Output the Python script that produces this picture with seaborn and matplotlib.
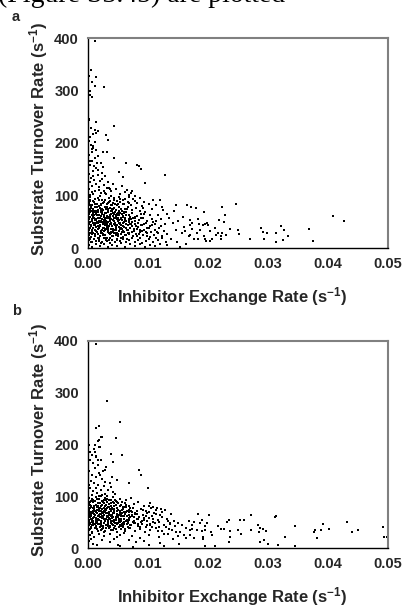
"""
Scatter of substrate turnover vs inhibitor exchange rate, two panels (a, b).
"""

import numpy as np
import matplotlib
matplotlib.use('Agg')
import matplotlib.pyplot as plt
import seaborn as sns

# ---- data (x in units of 1e-3 s^-1, y in s^-1) ----
a_high = [(1.22, 394), (0.44, 340), (0.1, 327), (1.3, 326), (0.7, 317), (1.1, 309), (2.6, 307),
          (0.4, 300), (0.3, 292), (0.6, 288), (0.1, 244), (1.3, 240), (4.3, 233), (1.7, 223),
          (1.4, 219), (3.0, 215), (3.3, 206), (0.9, 194), (0.6, 189), (2.5, 183), (3.2, 183),
          (4.4, 171), (6.4, 161), (8.1, 159), (8.5, 156), (8.9, 151), (5.1, 145), (5.8, 135),
          (12.8, 140), (9.5, 123), (10.8, 92), (12.0, 91)]

a_column = [(0.1, 245), (0.3, 212), (0.5, 196), (0.9, 190), (0.2, 178), (1.1, 171), (0.6, 166),
            (0.4, 158), (1.3, 152), (0.8, 147), (0.2, 141), (1.6, 139), (0.5, 134), (1.0, 129),
            (0.3, 125), (1.4, 121), (0.7, 118), (1.9, 116), (0.1, 112), (1.2, 109), (0.6, 106),
            (2.1, 104), (0.9, 102), (0.4, 101), (1.7, 148), (2.3, 132), (1.5, 161), (0.7, 183),
            (1.2, 201), (2.0, 127), (2.6, 120), (1.8, 111), (2.4, 143), (0.3, 165), (1.0, 156),
            (2.9, 137), (3.3, 126), (2.7, 108), (3.1, 115), (1.4, 186), (0.2, 204), (1.1, 224),
            (0.8, 218), (2.2, 162), (3.6, 112), (0.5, 228), (1.6, 176), (0.9, 137), (2.5, 155),
            (3.0, 103)]

a_soft = [(2.8, 104), (3.9, 108), (4.6, 113), (5.3, 102), (6.1, 106), (6.9, 101), (7.4, 109),
          (5.6, 118), (4.1, 122), (3.5, 115), (6.5, 111), (7.9, 99), (8.6, 95), (9.4, 88),
          (10.1, 84), (9.0, 80), (10.7, 74), (11.3, 82), (12.4, 79), (7.2, 104)]

a_core = [(0.3, 97), (1.2, 93), (2.0, 99), (2.8, 91), (3.5, 96), (4.4, 92), (5.1, 98), (6.2, 94),
          (0.8, 90), (1.7, 95), (3.9, 100), (4.8, 90), (5.9, 91), (6.8, 97), (7.5, 93),
          (0.1, 86), (0.6, 82), (1.0, 88), (1.5, 84), (2.2, 81), (2.6, 87), (3.1, 83), (3.7, 89),
          (4.2, 85), (4.9, 81), (5.4, 87), (6.0, 83), (6.6, 88), (7.2, 82), (8.1, 86), (0.4, 89),
          (1.9, 80), (3.4, 86), (5.0, 84), (7.8, 89),
          (0.2, 75), (0.7, 71), (1.1, 78), (1.6, 73), (2.0, 77), (2.5, 72), (2.9, 79), (3.3, 74),
          (3.8, 70), (4.3, 76), (4.7, 72), (5.2, 78), (5.7, 71), (6.1, 75), (6.7, 79), (7.3, 73),
          (8.0, 76), (8.6, 71), (9.2, 77), (0.5, 79), (1.3, 70), (2.3, 75), (3.6, 77), (4.0, 71),
          (5.5, 74),
          (0.1, 64), (0.4, 68), (0.9, 61), (1.4, 66), (1.8, 62), (2.1, 69), (2.7, 63), (3.0, 67),
          (3.5, 60), (3.9, 65), (4.5, 69), (4.9, 62), (5.3, 66), (5.8, 61), (6.3, 68), (6.9, 63),
          (7.4, 67), (8.2, 61), (8.8, 65), (9.5, 69), (10.3, 62), (0.7, 62), (1.2, 69), (2.4, 65),
          (3.2, 61), (4.1, 67), (5.6, 64), (7.0, 60),
          (0.2, 55), (0.6, 51), (1.0, 58), (1.3, 53), (1.7, 57), (2.2, 52), (2.6, 59), (2.9, 54),
          (3.4, 50), (3.7, 56), (4.2, 53), (4.6, 58), (5.0, 51), (5.5, 55), (5.9, 59), (6.4, 52),
          (6.8, 56), (7.3, 50), (7.9, 57), (8.5, 53), (9.1, 58), (9.8, 51), (10.6, 55), (11.4, 52),
          (0.4, 59), (1.5, 50), (2.4, 56), (3.1, 58), (4.4, 51), (6.1, 54),
          (0.1, 45), (0.5, 41), (0.8, 48), (1.2, 43), (1.6, 47), (1.9, 42), (2.3, 49), (2.8, 44),
          (3.2, 40), (3.6, 46), (4.0, 42), (4.5, 48), (4.9, 43), (5.4, 47), (5.8, 41), (6.3, 45),
          (6.9, 49), (7.4, 42), (7.9, 46), (8.4, 40), (9.0, 44), (9.7, 48), (10.4, 42), (11.2, 46),
          (12.1, 41), (0.3, 49), (1.4, 40), (2.6, 46), (3.9, 48), (5.1, 40),
          (0.2, 35), (0.6, 31), (0.9, 38), (1.3, 33), (1.7, 37), (2.1, 32), (2.5, 39), (2.9, 34),
          (3.3, 30), (3.8, 36), (4.2, 32), (4.7, 38), (5.1, 33), (5.6, 37), (6.0, 31), (6.5, 35),
          (7.0, 39), (7.6, 32), (8.1, 36), (8.7, 30), (9.3, 34), (9.9, 38), (10.5, 31), (11.1, 35),
          (11.8, 39), (12.6, 33), (0.4, 39), (1.5, 30), (3.0, 37), (4.4, 35),
          (0.1, 25), (0.5, 21), (0.9, 28), (1.2, 23), (1.6, 27), (2.0, 22), (2.4, 29), (2.8, 24),
          (3.2, 20), (3.7, 26), (4.1, 22), (4.6, 28), (5.0, 23), (5.5, 27), (5.9, 21), (6.4, 25),
          (6.9, 29), (7.5, 22), (8.0, 26), (8.6, 20), (9.2, 24), (9.8, 28), (10.4, 21), (11.0, 25),
          (11.7, 29), (12.4, 23), (13.2, 27), (0.3, 29), (1.8, 20), (3.5, 28),
          (0.2, 15), (0.6, 11), (1.0, 18), (1.4, 13), (1.9, 17), (2.3, 12), (2.7, 19), (3.1, 14),
          (3.6, 10), (4.0, 16), (4.5, 12), (4.9, 18), (5.4, 13), (5.8, 17), (6.3, 11), (6.8, 15),
          (7.3, 19), (7.9, 12), (8.4, 16), (9.0, 10), (9.6, 14), (10.2, 18), (10.9, 11), (11.6, 15),
          (12.3, 19), (13.0, 12), (0.4, 19), (2.1, 10),
          (0.1, 5), (0.7, 2), (1.3, 8), (2.0, 4), (2.6, 7), (3.3, 1), (4.0, 6), (4.8, 3), (5.5, 9),
          (6.2, 2), (7.0, 7), (7.8, 4), (8.7, 8), (9.5, 1), (10.3, 6), (11.2, 3), (12.0, 8),
          (13.1, 5), (15.4, 2), (16.3, 7)]

a_fill = [(0.3, 72), (0.8, 66), (1.1, 54), (1.4, 47), (1.9, 38), (2.2, 61), (2.5, 45), (2.7, 33),
          (3.0, 57), (3.3, 69), (3.5, 42), (3.8, 28), (4.1, 61), (4.3, 46), (4.6, 35), (4.8, 55),
          (5.2, 62), (5.5, 44), (5.7, 30), (6.0, 50), (0.2, 58), (0.5, 44), (0.7, 35), (1.0, 71),
          (1.2, 26), (1.5, 62), (1.8, 52), (2.0, 44), (2.3, 35), (2.6, 54), (2.9, 66), (3.1, 48),
          (3.4, 39), (3.7, 59), (3.9, 31), (4.2, 74), (4.4, 57), (4.7, 42), (5.0, 67), (5.3, 36),
          (0.4, 82), (0.9, 74), (1.3, 64), (1.6, 41), (2.1, 84), (2.4, 69), (2.8, 58), (3.2, 78),
          (3.6, 52), (4.0, 81), (4.3, 28), (4.8, 65), (5.1, 48), (5.6, 71), (6.2, 58), (6.6, 44),
          (7.1, 55), (7.7, 37), (8.3, 48), (8.9, 58), (0.6, 26), (1.1, 34), (1.6, 19), (2.0, 58),
          (2.5, 24), (3.0, 15), (3.4, 73), (3.9, 55), (4.3, 64), (4.7, 24), (5.2, 53), (5.8, 47),
          (6.4, 38), (6.9, 52), (7.4, 30), (8.0, 42), (8.6, 35), (9.4, 45), (10.1, 38), (10.8, 49),
          (0.2, 38), (0.7, 55), (1.2, 47), (1.7, 68), (2.2, 28), (2.7, 50), (3.2, 43), (3.7, 20),
          (4.1, 37), (4.6, 63), (5.0, 26), (5.5, 58), (6.0, 66), (6.6, 29), (7.2, 46), (7.8, 60),
          (9.0, 33), (9.8, 22), (11.5, 30), (12.8, 45)]

a_fill2 = [(0.15, 83), (0.45, 76), (0.75, 69), (1.05, 62), (1.35, 55), (1.65, 48), (1.95, 41),
           (2.25, 34), (2.55, 27), (2.85, 20), (3.15, 13), (3.45, 88), (3.75, 81), (4.05, 74),
           (4.35, 67), (4.65, 60), (4.95, 53), (5.25, 46), (5.55, 39), (5.85, 32), (6.15, 25),
           (6.45, 18), (6.75, 86), (0.35, 17), (0.65, 30), (0.95, 43), (1.25, 56), (1.55, 79),
           (1.85, 92), (2.15, 73), (2.45, 86), (2.75, 47), (3.05, 52), (3.35, 34), (3.65, 63),
           (3.95, 22), (4.25, 95), (4.55, 44), (4.85, 29), (5.15, 71), (5.45, 19), (5.75, 84),
           (6.05, 40), (6.35, 63), (6.65, 34), (7.0, 45), (7.5, 57), (8.2, 22), (8.8, 43),
           (9.3, 64), (0.25, 92), (0.55, 12), (0.85, 57), (1.15, 84), (1.45, 31), (1.75, 14),
           (2.05, 50), (2.35, 92), (2.65, 38), (2.95, 75), (3.25, 58), (3.55, 15), (3.85, 45),
           (4.15, 30), (4.45, 83), (4.75, 15), (5.05, 58), (5.35, 93), (5.65, 53), (5.95, 69),
           (6.25, 46), (6.55, 74), (6.85, 26), (7.3, 66), (7.9, 51), (8.5, 27), (9.6, 31),
           (10.6, 44), (11.3, 20), (12.2, 56)]

a_tail = [(14.7, 81), (16.5, 81), (17.1, 78), (18.0, 76), (19.3, 68), (22.4, 79), (24.7, 84),
          (22.8, 62), (21.9, 54), (22.6, 50), (23.6, 37), (25.0, 34), (25.1, 27), (27.0, 17),
          (28.8, 39), (29.2, 30), (29.3, 17), (29.8, 29), (31.3, 29), (31.3, 12), (32.2, 42),
          (32.6, 34), (32.5, 16), (33.4, 23), (36.8, 36), (37.5, 13), (40.8, 61), (42.6, 51),
          (17.0, 53), (17.0, 44), (17.3, 36), (17.0, 25), (17.6, 17), (18.4, 55), (18.5, 45),
          (18.7, 34), (19.1, 44), (19.5, 46), (19.9, 48), (20.0, 44), (19.4, 23), (19.5, 17),
          (19.7, 13), (18.2, 28), (18.3, 18), (20.3, 32), (20.4, 13), (20.7, 17), (21.2, 39),
          (21.3, 25), (21.7, 28), (22.2, 22), (22.4, 28), (22.1, 18), (23.0, 25),
          (13.5, 58), (14.1, 47), (14.6, 35), (15.0, 52), (15.6, 28), (16.0, 40), (16.8, 22),
          (17.3, 48), (13.8, 18), (14.9, 12), (15.8, 60), (16.2, 33), (13.1, 65), (12.5, 72),
          (11.6, 63), (14.3, 70)]

b_high = [(1.3, 394), (3.2, 285), (5.3, 243), (1.4, 231), (1.8, 236), (4.7, 212), (2.1, 214),
          (1.8, 209), (0.1, 199), (5.7, 179), (3.8, 182), (8.5, 151), (8.8, 141), (10.0, 116),
          (4.2, 166), (2.8, 151), (4.0, 138), (4.8, 131), (6.9, 125), (1.6, 207), (2.3, 215),
          (1.2, 199), (2.0, 196), (1.4, 178), (1.7, 170)]

b_column = [(0.1, 199), (0.3, 186), (0.6, 180), (1.0, 192), (1.3, 176), (0.4, 171), (0.8, 165),
            (1.6, 160), (1.1, 154), (0.2, 148), (1.9, 145), (0.7, 141), (1.4, 137), (2.3, 133),
            (0.5, 129), (1.0, 126), (1.7, 122), (2.6, 119), (0.3, 116), (2.1, 113), (0.9, 110),
            (1.5, 107), (2.8, 104), (0.6, 102), (3.2, 101), (3.6, 125), (2.5, 148), (3.0, 156),
            (2.2, 170), (1.2, 185), (1.8, 196), (2.0, 141), (3.4, 112), (4.1, 108), (3.8, 118),
            (2.9, 128), (4.5, 105), (0.2, 122), (1.3, 115), (2.4, 102)]

b_core = [(0.2, 96), (0.8, 92), (1.3, 99), (1.9, 94), (2.4, 90), (2.9, 97), (3.5, 93), (4.1, 98),
          (4.7, 91), (5.4, 95), (6.3, 92), (7.2, 97), (0.5, 91), (2.1, 100), (3.2, 95),
          (0.1, 85), (0.5, 81), (0.9, 88), (1.3, 83), (1.7, 87), (2.1, 82), (2.5, 89), (3.0, 84),
          (3.4, 80), (3.9, 86), (4.4, 82), (4.9, 88), (5.5, 83), (6.1, 87), (6.8, 81), (7.6, 85),
          (8.4, 89), (9.3, 82), (10.4, 86), (0.3, 89), (1.5, 80), (2.7, 86), (4.2, 88), (5.8, 80),
          (0.2, 74), (0.6, 70), (1.0, 77), (1.4, 72), (1.8, 76), (2.2, 71), (2.6, 78), (3.0, 73),
          (3.5, 79), (3.9, 75), (4.3, 71), (4.8, 77), (5.3, 72), (5.8, 76), (6.3, 70), (6.9, 74),
          (7.5, 78), (8.1, 72), (8.8, 76), (9.6, 71), (10.5, 78), (11.3, 74), (0.4, 78), (1.6, 79),
          (2.8, 70), (4.0, 78), (5.6, 74), (7.1, 71),
          (0.1, 65), (0.5, 61), (0.8, 68), (1.2, 63), (1.5, 67), (1.9, 62), (2.3, 69), (2.7, 64),
          (3.1, 60), (3.5, 66), (3.9, 62), (4.4, 68), (4.8, 63), (5.3, 67), (5.7, 61), (6.2, 65),
          (6.8, 69), (7.3, 62), (7.9, 66), (8.5, 60), (9.1, 64), (9.8, 68), (10.6, 61), (11.4, 65),
          (12.3, 69), (0.3, 69), (1.0, 60), (2.0, 66), (3.3, 68), (4.6, 60), (6.0, 69),
          (0.2, 55), (0.6, 51), (0.9, 58), (1.3, 53), (1.7, 57), (2.1, 52), (2.5, 59), (2.9, 54),
          (3.3, 50), (3.7, 56), (4.2, 52), (4.6, 58), (5.1, 53), (5.5, 57), (6.0, 51), (6.5, 55),
          (7.0, 59), (7.6, 52), (8.2, 56), (8.8, 50), (9.4, 54), (10.1, 58), (10.8, 51), (11.6, 55),
          (12.4, 59), (13.3, 53), (0.4, 59), (1.5, 50), (3.0, 57), (4.4, 55), (6.7, 50),
          (0.1, 45), (0.5, 41), (0.9, 48), (1.4, 43), (1.8, 47), (2.2, 42), (2.7, 49), (3.1, 44),
          (3.6, 40), (4.0, 46), (4.5, 42), (5.0, 48), (5.5, 43), (6.0, 47), (6.6, 41), (7.2, 45),
          (7.8, 49), (8.4, 42), (9.0, 46), (9.7, 40), (10.4, 44), (11.1, 48), (11.9, 41), (12.7, 45),
          (13.6, 49), (14.5, 43), (0.3, 49), (2.0, 40), (3.8, 48), (5.8, 40),
          (0.2, 35), (0.7, 31), (1.2, 38), (1.7, 33), (2.3, 37), (2.9, 32), (3.5, 39), (4.1, 34),
          (4.8, 30), (5.5, 36), (6.2, 32), (7.0, 38), (7.8, 33), (8.6, 37), (9.5, 31), (10.4, 35),
          (11.4, 39), (12.4, 32), (13.5, 36), (14.6, 30), (0.5, 39), (2.6, 30),
          (0.3, 25), (1.0, 21), (1.8, 28), (2.7, 23), (3.7, 27), (4.8, 22), (6.0, 29), (7.3, 24),
          (8.7, 20), (10.2, 26), (11.8, 22), (13.4, 28), (15.0, 24), (16.3, 20), (0.6, 29), (5.4, 26),
          (0.2, 14), (0.9, 8), (1.5, 5), (2.4, 15), (3.6, 11), (5.0, 6), (5.3, 3), (7.5, 1),
          (6.8, 16), (9.3, 13), (10.1, 6), (12.0, 10), (12.6, 4), (14.1, 18), (15.2, 8), (0.5, 18),
          (4.3, 17), (8.0, 12)]

b_fill = [(0.4, 63), (0.7, 54), (1.1, 72), (1.4, 58), (1.7, 46), (2.0, 77), (2.4, 61), (2.6, 48),
          (3.0, 68), (3.3, 55), (3.6, 43), (3.9, 71), (4.2, 59), (4.5, 49), (4.9, 66), (5.2, 56),
          (5.6, 46), (6.0, 62), (6.4, 53), (6.9, 58), (0.3, 83), (0.6, 44), (1.0, 65), (1.3, 49),
          (1.6, 82), (1.9, 55), (2.2, 66), (2.5, 43), (2.8, 75), (3.2, 62), (3.5, 85), (3.8, 52),
          (4.1, 44), (4.4, 76), (4.7, 55), (5.1, 63), (5.4, 81), (5.9, 49), (6.5, 72), (7.0, 44),
          (0.2, 70), (0.5, 57), (0.9, 44), (1.2, 90), (1.5, 74), (1.8, 63), (2.1, 49), (2.4, 84),
          (2.7, 57), (3.1, 78), (3.4, 47), (3.7, 64), (4.0, 53), (4.3, 86), (4.8, 71), (5.3, 44),
          (5.7, 68), (6.3, 79), (6.7, 48), (7.4, 63), (0.1, 52), (0.8, 78), (1.3, 40), (1.7, 62),
          (2.1, 35), (2.6, 72), (3.0, 38), (3.4, 61), (3.8, 35), (4.2, 67), (4.6, 37), (5.0, 74),
          (5.5, 64), (6.1, 37), (6.8, 55), (7.7, 59), (8.3, 46), (9.0, 53), (9.6, 62), (10.3, 47),
          (10.1, 81), (10.8, 79), (11.5, 77), (12.2, 76), (12.9, 74), (11.0, 68), (12.0, 63),
          (13.1, 57), (13.8, 66), (14.4, 52), (15.0, 48), (15.7, 44), (16.3, 39), (16.9, 52),
          (17.4, 45), (13.0, 41), (14.0, 35), (15.3, 30), (12.7, 28), (11.6, 33), (10.7, 40),
          (9.8, 52), (13.7, 46), (16.0, 26), (17.0, 34)]

b_fill2 = [(0.15, 88), (0.45, 79), (0.75, 71), (1.05, 82), (1.35, 69), (1.65, 54), (1.95, 86),
           (2.25, 58), (2.55, 67), (2.85, 52), (3.15, 88), (3.45, 70), (3.75, 82), (4.05, 63),
           (4.35, 51), (4.65, 84), (4.95, 59), (5.25, 68), (5.55, 52), (5.85, 75), (6.15, 66),
           (6.45, 46), (6.75, 63), (7.05, 77), (7.45, 51), (7.85, 68), (8.4, 57), (9.1, 74),
           (9.9, 45), (10.9, 56), (0.25, 47), (0.55, 66), (0.85, 53), (1.15, 46), (1.45, 94),
           (1.75, 71), (2.05, 59), (2.35, 75), (2.65, 93), (2.95, 44), (3.25, 51), (3.55, 58),
           (3.85, 92), (4.15, 75), (4.45, 42), (4.75, 48), (5.05, 86), (5.35, 50), (5.65, 89),
           (5.95, 57), (6.25, 84), (6.55, 61), (6.85, 38), (7.25, 70), (7.65, 48), (8.1, 65),
           (8.7, 41), (9.4, 58), (10.2, 70), (11.8, 50), (0.35, 36), (0.65, 95), (0.95, 74),
           (1.25, 57), (1.55, 36), (1.85, 100), (2.15, 45), (2.45, 38), (2.75, 81), (3.05, 92),
           (3.35, 43), (3.65, 76), (3.95, 58), (4.25, 39), (4.55, 93), (4.85, 46), (5.15, 40),
           (5.45, 61), (5.75, 42), (6.05, 79)]

b_tail = [(18.3, 66), (20.1, 64), (19.0, 54), (18.6, 48), (19.5, 42), (19.8, 48), (17.6, 50),
          (17.3, 37), (18.1, 35), (19.0, 32), (19.5, 34), (20.5, 30), (21.6, 42), (22.1, 36),
          (22.7, 37), (23.1, 51), (23.5, 54), (23.6, 33), (23.7, 22), (23.5, 12), (25.0, 34),
          (25.5, 28), (25.3, 55), (26.0, 54), (27.1, 63), (27.1, 35), (28.4, 45), (28.7, 38),
          (28.5, 30), (29.1, 36), (29.6, 32), (29.3, 16), (28.7, 11), (30.0, 7), (31.2, 59),
          (31.4, 62), (32.9, 22), (31.6, 5), (34.5, 42), (34.5, 3), (37.7, 30), (37.9, 35),
          (38.2, 19), (38.8, 35), (39.2, 46), (40.1, 36), (43.2, 50), (44.0, 30), (45.0, 35),
          (49.2, 40), (49.4, 22), (49.8, 22), (19.5, 3), (21.1, 4), (17.0, 25), (17.6, 19),
          (19.1, 22), (19.2, 17), (20.6, 25)]

panels = [
    ('a', a_high + a_column + a_soft + a_core + a_fill + a_fill2 + a_tail),
    ('b', b_high + b_column + b_core + b_fill + b_fill2 + b_tail),
]

x_ticks = [0.0, 0.01, 0.02, 0.03, 0.04, 0.05]
y_ticks = [0, 100, 200, 300, 400]

# ---- style ----
sns.set_style('white')
plt.rcParams['font.family'] = ['Liberation Sans', 'DejaVu Sans']
plt.rcParams['font.weight'] = 'bold'
plt.rcParams['mathtext.fontset'] = 'custom'
plt.rcParams['mathtext.bf'] = 'Liberation Sans:bold'
plt.rcParams['mathtext.rm'] = 'Liberation Sans:bold'
plt.rcParams['mathtext.default'] = 'bf'

fig = plt.figure(figsize=(4.04, 6.13), dpi=100)

# cut-off line of body text at the very top of the page
fig.text(-0.004, 1 - 1.5 / 613, '(Figure S3.45) are plotted', family='Liberation Serif',
         fontsize=20, va='baseline', ha='left', color='black', fontweight='normal')

axes_boxes = [
    [88 / 404, 1 - 248 / 613, 300 / 404, 210 / 613],
    [88 / 404, 1 - 548 / 613, 300 / 404, 207 / 613],
]
xlabel_offsets = [-0.176, -0.179]
letter_y = [1 - 17 / 613, 1 - 311 / 613]

for (letter, pts), box, xoff, ly in zip(panels, axes_boxes, xlabel_offsets, letter_y):
    ax = fig.add_axes(box)
    arr = np.array(pts, dtype=float)
    x_vals = arr[:, 0] * 1e-3
    y_vals = arr[:, 1]
    sns.scatterplot(x=x_vals, y=y_vals, ax=ax, marker='s', s=3.5, color='black',
                    linewidth=0, clip_on=False, legend=False)

    ax.set_xlim(0, 0.05)
    ax.set_ylim(0, 400)
    ax.set_xticks(x_ticks)
    ax.set_xticklabels([f'{t:.2f}' for t in x_ticks], fontsize=10.5, fontweight='bold')
    ax.set_yticks(y_ticks)
    ax.set_yticklabels([str(t) for t in y_ticks], fontsize=10.5, fontweight='bold')
    ax.tick_params(axis='x', direction='out', length=2.5, width=0.8, pad=4, color='black')
    ax.tick_params(axis='y', direction='out', length=2.5, width=0.8, pad=4, color='black')

    for side in ['left', 'bottom']:
        ax.spines[side].set_color('black')
        ax.spines[side].set_linewidth(1.0)
    for side in ['top', 'right']:
        ax.spines[side].set_color('#808080')
        ax.spines[side].set_linewidth(1.5)

    ax.set_ylabel('Substrate Turnover Rate (s$^{-1}$)', fontsize=12, fontweight='bold')
    ax.yaxis.set_label_coords(-0.125, 0.52)
    ax.set_xlabel('Inhibitor Exchange Rate (s$^{-1}$)', fontsize=12, fontweight='bold')
    ax.xaxis.set_label_coords(0.48, xoff)

    fig.text(12 / 404, ly, letter, fontsize=10.5, fontweight='bold', va='center', ha='left')

fig.savefig('out.png', dpi=100)
